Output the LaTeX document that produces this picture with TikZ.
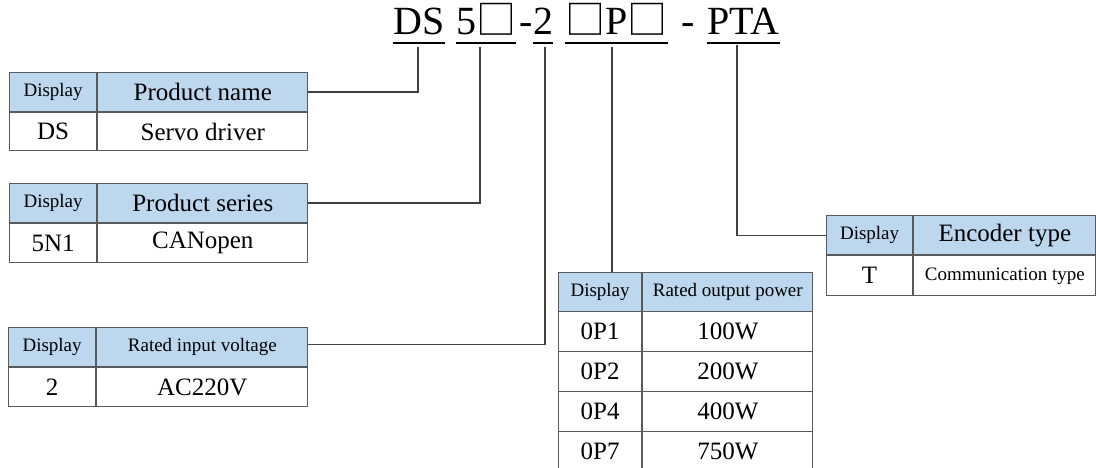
\documentclass[tikz,border=0pt]{standalone}
\usepackage{fontspec}
\setmainfont{Liberation Serif}
\newfontfamily\cjk{Noto Sans CJK SC}
\usetikzlibrary{positioning}
\definecolor{hdrblue}{RGB}{189,215,238}
\definecolor{gridgray}{RGB}{89,89,89}
\definecolor{linkgray}{RGB}{64,64,64}
\newcommand{\sqbox}{{\cjk □}}

\tikzset{
  cell/.style={draw=gridgray, line width=1.2pt, inner sep=0pt, anchor=north west,
               minimum height=39pt, font=\fontsize{25}{30}\selectfont},
  hcell/.style={cell, fill=hdrblue},
  small/.style={font=\fontsize{19}{23}\selectfont},
  link/.style={draw=linkgray, line width=1.2pt},
  seg/.style={inner sep=0pt, anchor=base west, font=\fontsize{40}{48}\selectfont},
  uline/.style={line width=2pt}
}

\begin{document}
\begin{tikzpicture}[x=1pt, y=-1pt]
        \useasboundingbox (0,0) rectangle (1096,468);
        % Model code
        \node[seg] (ds)  at (393,35) {DS};
        \node[seg] (ser) at (456,35) {5\sqbox};
        \node[seg] (da)  at (519,35) {-};
        \node[seg] (vol) at (533,35) {2};
        \node[seg] (pwr) at (565,35) {\sqbox P\sqbox};
        \node[seg] (db)  at (681,35) {-};
        \node[seg] (enc) at (707,35) {PTA};
        \foreach \s in {ds, ser, vol, pwr, enc}{
          \draw[uline] ([yshift=-8pt]\s.base west) -- ([yshift=-8pt]\s.base east);
        }
        \coordinate (dsTop)  at (418,47);
        \coordinate (serTop) at (480,47);
        \coordinate (volTop) at (545,47);
        \coordinate (pwrTop) at (612,47);
        \coordinate (encTop) at (737,45);
        % Product name
        \node[hcell, small, minimum width=87pt] (t1d) at (9,72) {Display};
        \node[hcell, minimum width=210pt] (t1n) at (t1d.north east) {Product name};
        \node[cell, minimum width=87pt, minimum height=38pt] (t1a) at (t1d.south west) {DS};
        \node[cell, minimum width=210pt, minimum height=38pt] (t1b) at (t1a.north east) {Servo driver};
        \draw[link] (t1n.east) -| (dsTop);
        % Product series
        \node[hcell, small, minimum width=87pt] (t2d) at (9,183) {Display};
        \node[hcell, minimum width=210pt] (t2n) at (t2d.north east) {Product series};
        \node[cell, minimum width=87pt] (t2a) at (t2d.south west) {5N1};
        \node[cell, minimum width=210pt] (t2b) at (t2a.north east) {CANopen};
        \draw[link] (t2n.east) -| (serTop);
        % Rated input voltage
        \node[hcell, small, minimum width=87pt] (t3d) at (8,327) {Display};
        \node[hcell, small, minimum width=211pt] (t3n) at (t3d.north east) {Rated input voltage};
        \node[cell, minimum width=87pt] (t3a) at (t3d.south west) {2};
        \node[cell, minimum width=211pt] (t3b) at (t3a.north east) {AC220V};
        \draw[link] ([yshift=3pt]t3n.east) -| (volTop);
        % Rated output power
        \node[hcell, small, minimum width=83pt] (t4d) at (558,272) {Display};
        \node[hcell, small, minimum width=170pt] (t4n) at (t4d.north east) {Rated output power};
        \foreach \code/\watt [count=\i] in {0P1/100W, 0P2/200W, 0P4/400W, 0P7/750W}{
          \node[cell, minimum width=83pt, minimum height=40pt] (t4a\i) at (558,{271+40*\i}) {\code};
          \node[cell, minimum width=170pt, minimum height=40pt] (t4b\i) at (t4a\i.north east) {\watt};
        }
        \draw[link] (pwrTop) -- (pwrTop |- t4d.north);
        % Encoder type
        \node[hcell, small, minimum width=86pt] (t5d) at (826,215) {Display};
        \node[hcell, minimum width=182pt] (t5n) at (t5d.north east) {Encoder type};
        \node[cell, minimum width=86pt, minimum height=40pt] (t5a) at (t5d.south west) {T};
        \node[cell, small, minimum width=182pt, minimum height=40pt] (t5b) at (t5a.north east) {Communication type};
        \draw[link] (t5d.west) -| (encTop);
      \end{tikzpicture}
\end{document}
